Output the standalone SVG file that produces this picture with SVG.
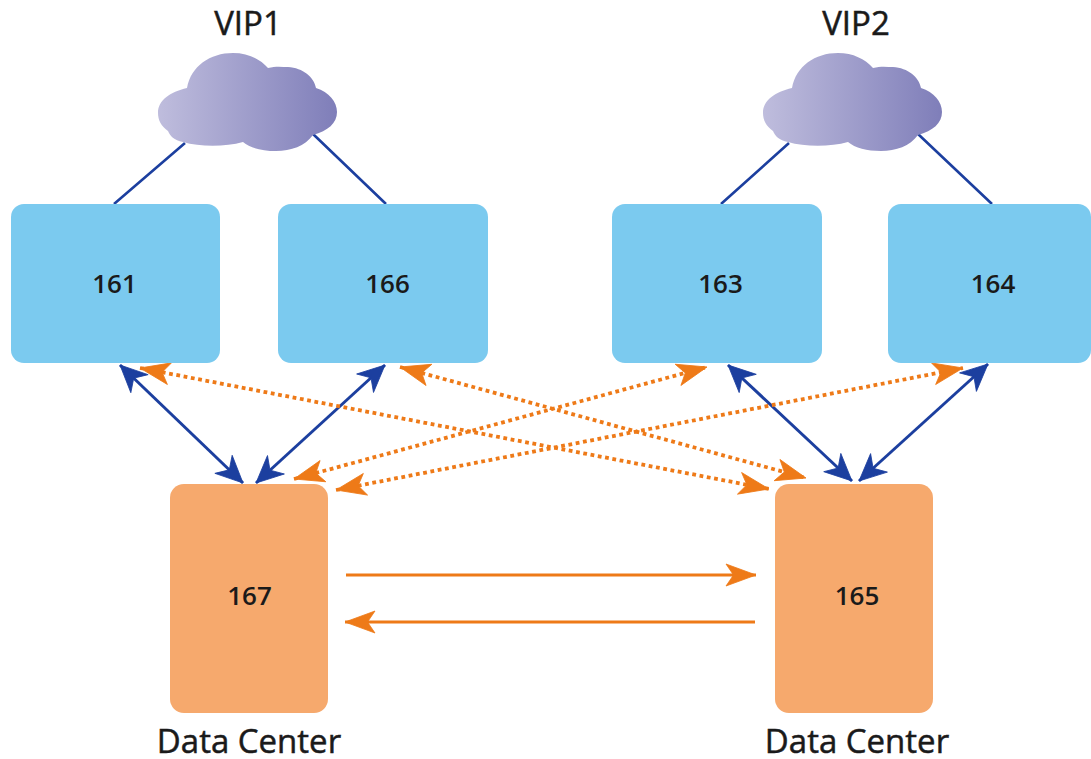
<svg xmlns="http://www.w3.org/2000/svg" width="1091" height="759" viewBox="0 0 1091 759">
<style>
text{font-family:"Open Sans","Noto Sans","Liberation Sans",sans-serif;fill:#1a1a1a;text-anchor:middle}
.t{font-size:33px;font-weight:400;stroke:#1a1a1a;stroke-width:0.5}
.n{font-size:26px;font-weight:600}
.b{fill:#7bcaef}
.o{fill:#f6a96d}
.up{fill:none;stroke:#1c3f9f;stroke-width:2.6}
.bi{fill:none;stroke:#1c3f9f;stroke-width:3;marker-start:url(#mb);marker-end:url(#mb)}
.dot{fill:none;stroke:#ee7a18;stroke-width:3.8;stroke-dasharray:3.8 3.6;marker-start:url(#mo);marker-end:url(#mo)}
.sol{fill:none;stroke:#ee7a18;stroke-width:3;marker-end:url(#mo)}
</style>
<defs>
<linearGradient id="g" x1="0" x2="1" y1="0" y2="0"><stop offset="0" stop-color="#bfbddd"/><stop offset="1" stop-color="#7f7eb9"/></linearGradient>
<marker id="mb" markerUnits="userSpaceOnUse" markerWidth="34" markerHeight="30" refX="28" refY="15" orient="auto-start-reverse"><path d="M28 15L1 2.500L9 15L1 27.500Z" fill="#1c3f9f" stroke="#1c3f9f" stroke-width="0.8"/></marker>
<marker id="mo" markerUnits="userSpaceOnUse" markerWidth="36" markerHeight="30" refX="31" refY="15" orient="auto-start-reverse"><path d="M31 15L1 4L8.500 15L1 26Z" fill="#ee7a18" stroke="#ee7a18" stroke-width="0.8"/></marker>
<path id="cloud" d="M183 142C174 140 170 136 168 131C161 126 158 120 158 113C158 100 170 92 187 88C191 66 210 53 233 53C248 53 260 59 268 68C276 66 282 67 288 67C303 68 314 77 316 88C329 92 337 102 337 112C337 123 328 131 313 135C305 146 291 151 276 151C262 151 250 148 243 142C225 147 200 147 183 142Z" fill="url(#g)"/>
</defs>
<g id="connectors">
<path class="up" d="M185 143L114 204M313 134L386 204M789 143L721 204M918 134L992 204"/>
<path class="bi" d="M120 365L243 483"/>
<path class="bi" d="M385 365L256 483"/>
<path class="bi" d="M728 365L852 481"/>
<path class="bi" d="M988 364L859 481"/>
<path class="dot" d="M140 368L769 489"/>
<path class="dot" d="M400 367L806 478"/>
<path class="dot" d="M294 479L707 367"/>
<path class="dot" d="M336 490L963 368"/>
<path class="sol" d="M346 575L756 575"/>
<path class="sol" d="M755 622L345 622"/>
</g>
<g id="vip1"><use href="#cloud"/><text class="t" x="248" y="35">VIP1</text></g>
<g id="vip2"><use href="#cloud" x="605"/><text class="t" x="856" y="35">VIP2</text></g>
<g id="n161"><rect class="b" x="11" y="204" width="209" height="159" rx="13"/><text class="n" x="114.500" y="293">161</text></g>
<g id="n166"><rect class="b" x="278" y="204" width="210" height="159" rx="13"/><text class="n" x="387.500" y="293">166</text></g>
<g id="n163"><rect class="b" x="612" y="204" width="210" height="159" rx="13"/><text class="n" x="720.500" y="293">163</text></g>
<g id="n164"><rect class="b" x="888" y="204" width="203" height="159" rx="13"/><text class="n" x="993" y="293">164</text></g>
<g id="n167"><rect class="o" x="170" y="484" width="158" height="229" rx="14"/><text class="n" x="249.500" y="605">167</text></g>
<g id="n165"><rect class="o" x="775" y="484" width="158" height="229" rx="14"/><text class="n" x="857" y="605">165</text></g>
<text class="t" x="249" y="753">Data Center</text>
<text class="t" x="857" y="753">Data Center</text>
</svg>
